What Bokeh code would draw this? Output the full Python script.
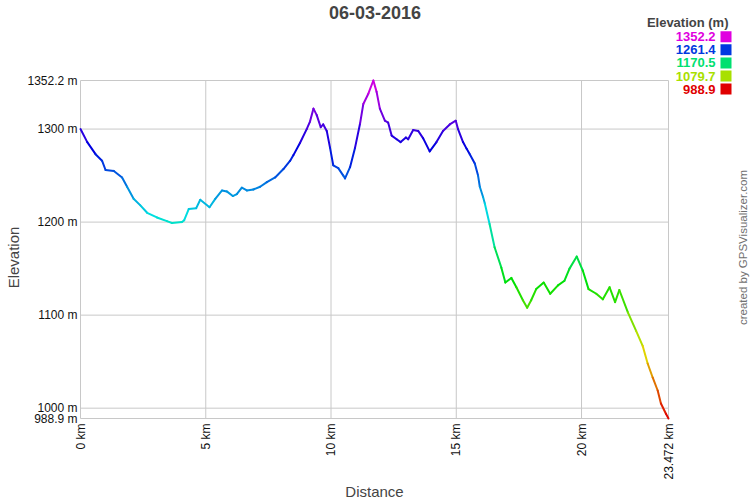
import colorsys
from math import pi
from bokeh.plotting import figure
from bokeh.models import (Range1d, FixedTicker, CustomJSTickFormatter, Label,
                          LinearAxis, ColumnDataSource)
from bokeh.embed import file_html
from bokeh.resources import INLINE

# ---- data (km, m) ----
dist = [0.0, 0.27, 0.6, 0.86, 1.0, 1.33, 1.66, 1.86, 2.12, 2.39,
        2.66, 3.05, 3.45, 3.65, 4.05, 4.14, 4.32, 4.62, 4.78, 5.15,
        5.38, 5.65, 5.84, 6.08, 6.24, 6.44, 6.64, 6.9, 7.17, 7.44,
        7.77, 8.1, 8.37, 8.5, 8.76, 9.03, 9.16, 9.3, 9.43, 9.59,
        9.69, 9.83, 9.96, 10.09, 10.29, 10.49, 10.56, 10.76, 10.96, 11.16,
        11.29, 11.49, 11.69, 11.82, 11.95, 12.15, 12.28, 12.42, 12.62, 12.78,
        12.99, 13.08, 13.28, 13.48, 13.68, 13.94, 14.21, 14.47, 14.74, 14.98,
        15.07, 15.27, 15.41, 15.54, 15.74, 15.87, 15.94, 16.07, 16.14, 16.33,
        16.53, 16.8, 16.96, 17.2, 17.4, 17.66, 17.83, 17.99, 18.19, 18.49,
        18.75, 19.06, 19.32, 19.52, 19.81, 20.05, 20.28, 20.59, 20.85, 21.12,
        21.34, 21.51, 21.85, 22.18, 22.44, 22.64, 22.84, 23.04, 23.17, 23.37,
        23.472]
elev = [1300, 1286, 1273, 1266, 1256, 1255, 1248, 1238, 1225, 1218,
        1210, 1205, 1201, 1199, 1200, 1202, 1214, 1215, 1224, 1216,
        1225, 1234, 1233, 1228, 1230, 1237, 1234, 1235, 1238, 1243,
        1248, 1257, 1266, 1272, 1285, 1300, 1308, 1322, 1315, 1302,
        1305, 1298, 1280, 1261, 1258, 1250, 1247, 1259, 1280, 1306,
        1327, 1338, 1352.2, 1340, 1322, 1309, 1307, 1293, 1289, 1286,
        1291, 1289, 1299, 1298, 1290, 1276, 1286, 1298, 1305, 1309,
        1300, 1286, 1279, 1273, 1263, 1250, 1238, 1227, 1220, 1198,
        1173, 1151, 1135, 1140, 1130, 1116, 1108, 1116, 1128, 1135,
        1123, 1132, 1137, 1150, 1163, 1148, 1128, 1123, 1117, 1130,
        1114, 1127, 1103, 1083, 1067, 1048, 1033, 1019, 1005, 994,
        988.9]

x_ticks = [0, 5, 10, 15, 20, 23.472]
y_ticks = [988.9, 1000, 1100, 1200, 1300, 1352.2]
legend_values = [1352.2, 1261.4, 1170.5, 1079.7, 988.9]
title_text = "06-03-2016"
legend_title = "Elevation (m)"
x_label = "Distance"
y_label = "Elevation"
credit = "created by GPSVisualizer.com"

E_MIN, E_MAX = 988.9, 1352.2
X_MAX = 23.472

# chart area inside the 750x500 canvas (pixels)
W, H = 750, 500
L, R, T, B = 80, 668, 80, 418
KPX = X_MAX / (R - L)            # km per pixel
MPX = (E_MAX - E_MIN) / (B - T)  # m per pixel


def dx(px):
    return (px - L) * KPX


def dy(py):
    return E_MIN + (B - py) * MPX


def elev_color(e):
    t = (e - E_MIN) / (E_MAX - E_MIN)
    r, g, b = colorsys.hsv_to_rgb(300.0 * t / 360.0, 1.0, 0.88)
    return "#%02x%02x%02x" % (int(r * 255), int(g * 255), int(b * 255))


FONT = "Liberation Sans"

p = figure(width=W, height=H, output_backend="svg", toolbar_location=None,
           x_range=Range1d(dx(0), dx(W)), y_range=Range1d(dy(H), dy(0)),
           x_axis_location=None, y_axis_location=None,
           min_border=0, min_border_left=0, min_border_right=0,
           min_border_top=0, min_border_bottom=0)
p.title.visible = False
p.outline_line_color = None
p.background_fill_color = "white"
p.border_fill_color = "white"
p.xgrid.visible = False
p.ygrid.visible = False

# grid lines bounded to the chart area
gx = ColumnDataSource(dict(x0=x_ticks, x1=x_ticks,
                           y0=[E_MIN] * len(x_ticks), y1=[E_MAX] * len(x_ticks)))
gy = ColumnDataSource(dict(x0=[0] * len(y_ticks), x1=[X_MAX] * len(y_ticks),
                           y0=y_ticks, y1=y_ticks))
p.segment(x0="x0", y0="y0", x1="x1", y1="y1", source=gx, line_color="#c8c8c8",
          line_width=1)
p.segment(x0="x0", y0="y0", x1="x1", y1="y1", source=gy, line_color="#c8c8c8",
          line_width=1)

# axes fixed at the chart edges
yax = LinearAxis(fixed_location=0, ticker=FixedTicker(ticks=y_ticks),
                 formatter=CustomJSTickFormatter(code="return tick + ' m';"))
xax = LinearAxis(fixed_location=E_MIN, ticker=FixedTicker(ticks=x_ticks),
                 formatter=CustomJSTickFormatter(code="return tick + ' km';"))
for ax in (xax, yax):
    ax.axis_line_color = None
    ax.major_tick_line_color = None
    ax.minor_tick_line_color = None
    ax.major_tick_out = 0
    ax.major_tick_in = 0
    ax.minor_tick_out = 0
    ax.minor_tick_in = 0
    ax.major_label_text_font = FONT
    ax.major_label_text_font_size = "12px"
    ax.major_label_text_color = "#111111"
xax.major_label_orientation = pi / 2
xax.major_label_standoff = 5
yax.major_label_standoff = 3
p.add_layout(yax, "left")
p.add_layout(xax, "below")

# elevation profile coloured by elevation
seg_colors = [elev_color((elev[i] + elev[i + 1]) / 2.0) for i in range(len(elev) - 1)]
src = ColumnDataSource(dict(x0=dist[:-1], y0=elev[:-1], x1=dist[1:], y1=elev[1:],
                            c=seg_colors))
p.segment(x0="x0", y0="y0", x1="x1", y1="y1", line_color="c", line_width=2,
          line_cap="round", source=src)


def lab(px, py, text, size, **kw):
    p.add_layout(Label(x=dx(px), y=dy(py), text=text, text_font=FONT,
                       text_font_size=size, text_baseline="middle", **kw))


lab(374.5, 12, title_text, "18px", text_font_style="bold", text_align="center")
lab(374, 491, x_label, "15px", text_align="center")
lab(13, 257, y_label, "15px", text_align="center", angle=pi / 2)
lab(742, 247, credit, "11.5px", text_color="#707070", text_align="center",
    angle=pi / 2)
lab(728, 21.5, legend_title, "13px", text_font_style="bold", text_align="right")

leg_y = [36.2 + i * 13.1 for i in range(len(legend_values))]
leg_cols = [elev_color(v) for v in legend_values]
for v, cy, col in zip(legend_values, leg_y, leg_cols):
    lab(715, cy, "%.1f" % v, "13px", text_font_style="bold", text_align="right",
        text_color=col)
lsrc = ColumnDataSource(dict(x=[dx(725.5)] * len(leg_y), y=[dy(c) for c in leg_y],
                             c=leg_cols))
p.rect(x="x", y="y", width=11, height=11, width_units="screen",
       height_units="screen", fill_color="c", line_color=None, source=lsrc)

open("out.html", "w").write(file_html(p, INLINE))
